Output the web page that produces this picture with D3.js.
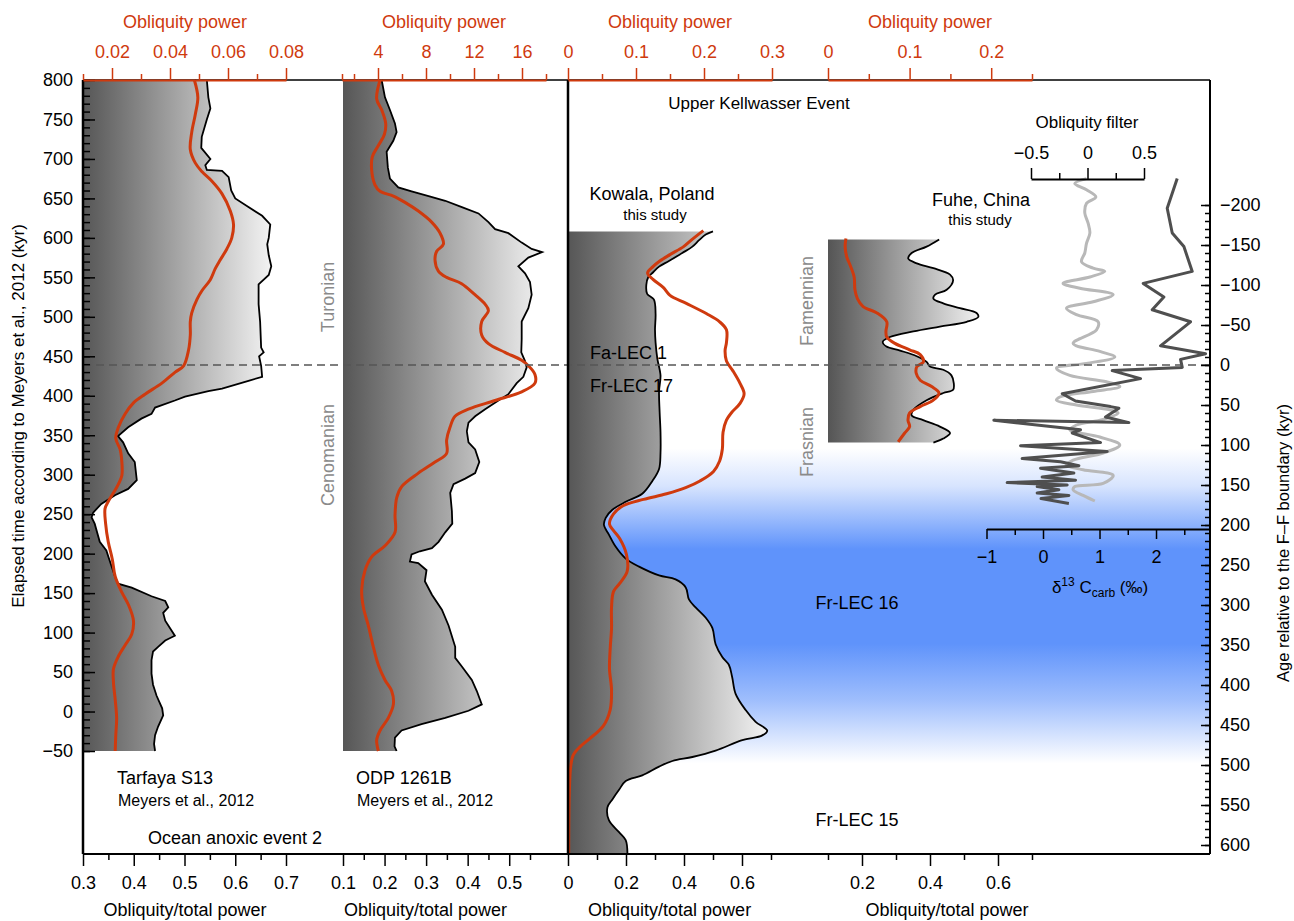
<!DOCTYPE html>
<html><head><meta charset="utf-8">
<script src="https://cdn.jsdelivr.net/npm/d3@7"></script>
<style>body{margin:0;background:#fff}svg{display:block}</style>
</head><body>
<svg id="c" width="1294" height="921"></svg>
<script>
// ---------- DATA (age, value) ----------
// Tarfaya S13 (elapsed time kyr, obliquity/total power)
const tarfayaRatio = [[800,0.544],[778,0.547],[764,0.551],[750,0.544],[728,0.534],[714,0.533],[700,0.551],[692,0.541],[686,0.544],[685,0.574],[677,0.587],[660,0.592],[650,0.600],[639,0.626],[628,0.653],[617,0.669],[600,0.666],[592,0.663],[578,0.666],[564,0.671],[553,0.666],[541,0.646],[516,0.646],[494,0.649],[461,0.651],[455,0.656],[450,0.647],[438,0.651],[424,0.653],[419,0.626],[409,0.574],[406,0.547],[399,0.501],[394,0.481],[385,0.442],[377,0.435],[371,0.415],[360,0.389],[349,0.369],[341,0.379],[327,0.389],[316,0.402],[293,0.406],[282,0.389],[274,0.363],[263,0.336],[252,0.320],[246,0.317],[238,0.323],[215,0.333],[204,0.346],[196,0.350],[171,0.363],[162,0.369],[157,0.396],[146,0.435],[140,0.462],[132,0.468],[125,0.458],[115,0.462],[96,0.481],[90,0.462],[82,0.448],[76,0.438],[65,0.435],[48,0.435],[34,0.438],[20,0.445],[4,0.456],[-5,0.458],[-19,0.448],[-30,0.442],[-41,0.440],[-50,0.442]];
// Tarfaya S13 obliquity power
const tarfayaPower = [[800,0.0484],[778,0.0496],[756,0.0487],[734,0.0475],[712,0.0470],[695,0.0487],[684,0.0510],[672,0.0544],[656,0.0579],[634,0.0608],[617,0.0619],[600,0.0613],[586,0.0596],[572,0.0573],[561,0.0556],[547,0.0539],[533,0.0510],[522,0.0493],[505,0.0475],[494,0.0470],[477,0.0470],[458,0.0464],[438,0.0447],[430,0.0418],[416,0.0372],[402,0.0314],[391,0.0274],[377,0.0245],[360,0.0222],[346,0.0213],[332,0.0228],[316,0.0234],[299,0.0234],[288,0.0222],[277,0.0205],[266,0.0187],[257,0.0176],[238,0.0178],[215,0.0187],[193,0.0201],[171,0.0211],[151,0.0234],[135,0.0257],[115,0.0274],[98,0.0268],[84,0.0245],[70,0.0222],[54,0.0205],[37,0.0205],[15,0.0211],[-8,0.0216],[-30,0.0213],[-50,0.0211]];
// ODP 1261B
const odpRatio = [[800,0.193],[778,0.201],[762,0.213],[745,0.225],[734,0.229],[723,0.221],[709,0.205],[689,0.208],[675,0.213],[664,0.233],[659,0.265],[653,0.306],[647,0.346],[639,0.386],[631,0.426],[620,0.450],[611,0.466],[606,0.498],[594,0.530],[586,0.554],[582,0.579],[575,0.546],[564,0.522],[555,0.538],[544,0.550],[528,0.554],[511,0.546],[494,0.530],[472,0.530],[455,0.529],[444,0.538],[436,0.542],[424,0.534],[416,0.518],[402,0.498],[394,0.474],[383,0.442],[374,0.418],[366,0.402],[355,0.398],[341,0.402],[332,0.418],[316,0.428],[302,0.418],[295,0.394],[288,0.366],[277,0.358],[254,0.362],[238,0.363],[227,0.346],[215,0.330],[207,0.314],[203,0.285],[199,0.265],[190,0.261],[188,0.281],[179,0.301],[165,0.297],[148,0.314],[129,0.338],[109,0.354],[82,0.370],[68,0.370],[57,0.386],[40,0.410],[26,0.422],[9,0.434],[1,0.402],[-8,0.346],[-16,0.289],[-24,0.241],[-33,0.225],[-44,0.224],[-50,0.229]];
const odpPower = [[800,4.17],[776,3.89],[762,4.31],[745,4.64],[731,4.53],[717,4.03],[703,3.53],[686,3.47],[667,3.75],[659,4.17],[653,5.28],[645,6.25],[634,7.36],[620,8.47],[606,9.17],[592,9.45],[583,8.89],[572,8.75],[558,9.03],[550,9.72],[542,10.97],[528,12.08],[516,12.92],[508,13.20],[494,12.64],[477,12.64],[466,13.20],[455,14.58],[445,15.97],[438,16.53],[427,17.08],[416,17.08],[405,15.97],[394,13.75],[383,11.53],[374,10.42],[360,10.0],[344,9.72],[327,9.72],[316,8.75],[302,7.36],[285,5.97],[271,5.56],[249,5.42],[227,5.42],[210,4.58],[196,3.47],[179,2.92],[154,2.64],[132,2.78],[109,3.19],[82,3.61],[59,4.03],[40,4.58],[26,5.14],[9,5.28],[-8,4.86],[-24,4.17],[-36,3.89],[-50,4.03]];
// Kowala, Poland (age relative to F-F boundary, kyr)
const kowalaRatio = [[-167,0.500],[-163,0.475],[-156,0.452],[-148,0.429],[-140,0.394],[-130,0.348],[-123,0.314],[-115,0.291],[-110,0.277],[-100,0.270],[-89,0.273],[-82,0.296],[-64,0.302],[-44,0.300],[-28,0.302],[-8,0.308],[13,0.319],[33,0.314],[59,0.316],[84,0.319],[110,0.319],[130,0.314],[145,0.291],[161,0.256],[171,0.199],[181,0.153],[191,0.130],[200,0.124],[212,0.141],[227,0.164],[242,0.199],[252,0.245],[263,0.314],[268,0.371],[278,0.406],[293,0.417],[303,0.440],[316,0.475],[329,0.498],[349,0.509],[365,0.532],[375,0.555],[390,0.566],[411,0.578],[431,0.612],[446,0.647],[457,0.687],[463,0.670],[469,0.601],[482,0.509],[490,0.429],[495,0.360],[502,0.314],[513,0.256],[520,0.199],[531,0.176],[543,0.153],[553,0.136],[569,0.141],[584,0.176],[594,0.199],[611,0.205]];
const kowalaPower = [[-168,0.199],[-158,0.184],[-148,0.170],[-138,0.150],[-130,0.135],[-123,0.125],[-115,0.117],[-107,0.125],[-97,0.140],[-87,0.150],[-77,0.174],[-64,0.204],[-54,0.223],[-44,0.233],[-28,0.233],[-18,0.231],[-5,0.233],[8,0.243],[23,0.253],[36,0.259],[48,0.253],[59,0.241],[69,0.233],[84,0.228],[105,0.227],[120,0.223],[133,0.214],[145,0.194],[153,0.174],[161,0.145],[168,0.111],[176,0.081],[186,0.067],[199,0.061],[207,0.067],[217,0.076],[237,0.086],[258,0.087],[273,0.076],[283,0.067],[303,0.064],[329,0.064],[355,0.062],[380,0.061],[406,0.064],[431,0.062],[451,0.052],[467,0.032],[477,0.018],[487,0.008],[502,0.004],[533,0.002],[611,0.001]];
// Fuhe, China
const fuheRatio = [[-157,0.427],[-148,0.390],[-140,0.346],[-133,0.336],[-127,0.361],[-121,0.410],[-113,0.459],[-106,0.468],[-94,0.449],[-88,0.415],[-83,0.410],[-77,0.439],[-71,0.488],[-65,0.537],[-60,0.542],[-54,0.508],[-48,0.429],[-42,0.351],[-35,0.282],[-29,0.261],[-23,0.272],[-18,0.312],[-11,0.361],[-4,0.390],[2,0.400],[6,0.439],[13,0.463],[23,0.470],[31,0.468],[35,0.439],[44,0.390],[56,0.351],[63,0.346],[69,0.380],[77,0.429],[85,0.459],[92,0.439],[97,0.410]];
const fuhePower = [[-158,0.022],[-148,0.021],[-135,0.023],[-125,0.027],[-110,0.032],[-94,0.033],[-83,0.036],[-73,0.043],[-65,0.060],[-54,0.072],[-42,0.071],[-35,0.072],[-27,0.082],[-19,0.100],[-13,0.113],[-4,0.117],[2,0.109],[10,0.108],[19,0.113],[27,0.127],[35,0.136],[44,0.129],[52,0.113],[60,0.100],[69,0.098],[77,0.100],[85,0.094],[96,0.086]];
// δ13C carb (age, ‰)
const d13C = [[-233,2.375],[-196,2.198],[-165,2.287],[-148,2.493],[-117,2.641],[-102,1.773],[-85,2.139],[-69,1.933],[-54,2.611],[-44,2.434],[-24,2.080],[-14,2.877],[-7,2.434],[3,2.464],[7,1.225],[17,1.726],[36,0.340],[45,0.576],[52,1.195],[54,1.343],[65,1.107],[72,1.520],[69,-0.870],[81,0.664],[85,0.517],[97,1.018],[101,-0.398],[108,1.136],[117,-0.369],[121,0.310],[126,0.635],[129,-0.044],[135,0.546],[140,-0.015],[144,0.576],[147,-0.634],[150,0.428],[152,-0.103],[156,0.281],[160,-0.103],[163,0.458],[167,-0.035],[173,0.458]];
// Obliquity filter (age, amplitude)
const oblFilter = [[-233,-0.009],[-227,-0.112],[-219,-0.009],[-210,0.074],[-202,-0.009],[-190,-0.024],[-177,0.006],[-165,0.021],[-152,-0.009],[-140,-0.024],[-129,-0.053],[-121,0.050],[-117,0.153],[-110,0.021],[-102,-0.216],[-96,-0.068],[-88,0.227],[-79,0.050],[-71,-0.186],[-63,-0.098],[-54,0.094],[-44,0.080],[-27,-0.127],[-17,0.109],[-10,0.242],[-2,-0.009],[4,-0.275],[13,-0.157],[21,0.168],[27,0.286],[33,0.050],[40,-0.245],[44,-0.275],[50,-0.098],[56,0.198],[60,0.271],[68,0.139],[75,-0.098],[81,-0.157],[90,0.109],[100,0.286],[110,0.139],[119,-0.127],[125,-0.186],[131,-0.039],[138,0.227],[148,0.139],[152,-0.112],[156,-0.127],[163,-0.039],[170,0.065]];

// ---------- TICKS ----------
const leftTicks = [-50,0,50,100,150,200,250,300,350,400,450,500,550,600,650,700,750,800];
const rightTicks = [-200,-150,-100,-50,0,50,100,150,200,250,300,350,400,450,500,550,600];
const p1BottomTicks = [0.3,0.4,0.5,0.6,0.7];
const p1TopTicks = [0.02,0.04,0.06,0.08];
const p2BottomTicks = [0.1,0.2,0.3,0.4,0.5];
const p2TopTicks = [4,8,12,16];
const p3BottomTicks = [0,0.2,0.4,0.6];
const p3TopTicks = [0,0.1,0.2,0.3];
const p4BottomTicks = [0.2,0.4,0.6];
const p4TopTicks = [0,0.1,0.2];
const d13Ticks = [-1,0,1,2];
const filterTicks = [-0.5,0,0.5];

// ---------- SETUP ----------
const svg = d3.select("#c");
const FONT = "'Liberation Sans', Arial, Helvetica, sans-serif";
svg.attr("font-family", FONT);
const RED = "#cf3a0e";
const L=83, R=1210, T=80, B=854, DIV=568;
const FS = 18;
const fmt = d => (d < 0 ? "\u2212" : "") + String(+Math.abs(d).toFixed(3));

const yL = d3.scaleLinear().domain([800,-50]).range([80,751]);
const yR = d3.scaleLinear().domain([-200,600]).range([205,845]);
const x1 = d3.scaleLinear().domain([0.3,0.7]).range([83,286]);
const x1t = d3.scaleLinear().domain([0.01,0.08]).range([83,286]);
const x2 = d3.scaleLinear().domain([0.1,0.55]).range([343,530]);
const x2t = d3.scaleLinear().domain([1,18]).range([342,546]);
const x3 = d3.scaleLinear().domain([0,0.7]).range([568,771]);
const x3t = d3.scaleLinear().domain([0,0.3]).range([568,772]);
const x4 = d3.scaleLinear().domain([0.1,0.7]).range([828,1032]);
const x4t = d3.scaleLinear().domain([0,0.25]).range([828,1032]);
const xd = d3.scaleLinear().domain([-1,2.95]).range([986.5,1209.7]);
const xf = d3.scaleLinear().domain([-0.5,0.5]).range([1031,1144]);

const defs = svg.append("defs");
function hGrad(id, a, b) {
  const g = defs.append("linearGradient").attr("id", id).attr("gradientUnits","userSpaceOnUse")
    .attr("x1", a).attr("x2", b).attr("y1", 0).attr("y2", 0);
  g.append("stop").attr("offset", "0%").attr("stop-color", "#565656");
  g.append("stop").attr("offset", "100%").attr("stop-color", "#f6f6f6");
}
hGrad("g1", 83, 275);
hGrad("g2", 343, 548);
hGrad("g3", 568, 772);
hGrad("g4", 829, 985);

// blue band
const bg = defs.append("linearGradient").attr("id","blue").attr("gradientUnits","userSpaceOnUse")
  .attr("x1",0).attr("x2",0).attr("y1",yR(104)).attr("y2",yR(498));
[[0,0],[0.12,0.25],[0.24,0.7],[0.32,1],[0.62,1],[0.8,0.6],[1,0]].forEach(s =>
  bg.append("stop").attr("offset", s[0]).attr("stop-color","#5f93fb").attr("stop-opacity", s[1]));
svg.append("rect").attr("x", DIV).attr("width", R-DIV).attr("y", yR(104)).attr("height", yR(498)-yR(104))
  .attr("fill","url(#blue)");

// ---------- PANELS ----------
function panel(ratio, power, y, xb, xt, gid, smooth) {
  const c = smooth ? d3.curveCatmullRom : d3.curveLinear;
  const x0 = xb(xb.domain()[0]);
  svg.append("path").datum(ratio)
    .attr("d", d3.area().curve(c).y(d => y(d[0])).x0(x0).x1(d => xb(d[1])))
    .attr("fill", `url(#${gid})`);
  svg.append("path").datum(ratio)
    .attr("d", d3.line().curve(c).y(d => y(d[0])).x(d => xb(d[1])))
    .attr("fill","none").attr("stroke","#000").attr("stroke-width",1.8);
  svg.append("path").datum(power)
    .attr("d", d3.line().curve(d3.curveCatmullRom).y(d => y(d[0])).x(d => xt(d[1])))
    .attr("fill","none").attr("stroke",RED).attr("stroke-width",3);
}
panel(tarfayaRatio, tarfayaPower, yL, x1, x1t, "g1", false);
panel(odpRatio, odpPower, yL, x2, x2t, "g2", false);
panel(kowalaRatio, kowalaPower, yR, x3, x3t, "g3", true);
panel(fuheRatio, fuhePower, yR, x4, x4t, "g4", true);

// inset lines
svg.append("path").datum(oblFilter)
  .attr("d", d3.line().curve(d3.curveCatmullRom).y(d => yR(d[0])).x(d => xf(d[1])))
  .attr("fill","none").attr("stroke","#b8b8b8").attr("stroke-width",3);
svg.append("path").datum(d13C)
  .attr("d", d3.line().y(d => yR(d[0])).x(d => xd(d[1])))
  .attr("fill","none").attr("stroke","#4f4f4f").attr("stroke-width",3).attr("stroke-linejoin","round");

// dashed boundary line
svg.append("line").attr("x1", L).attr("x2", R).attr("y1", yR(0)).attr("y2", yR(0))
  .attr("stroke","#555").attr("stroke-width",1.6).attr("stroke-dasharray","8,5");

// ---------- FRAME ----------
const fr = svg.append("g").attr("stroke","#000");
fr.append("line").attr("x1",L).attr("x2",R).attr("y1",T).attr("y2",T).attr("stroke-width",1.5);
fr.append("line").attr("x1",L).attr("x2",R).attr("y1",B).attr("y2",B).attr("stroke-width",2);
fr.append("line").attr("x1",L).attr("x2",L).attr("y1",T).attr("y2",B).attr("stroke-width",2.5);
fr.append("line").attr("x1",DIV).attr("x2",DIV).attr("y1",T).attr("y2",B).attr("stroke-width",2.5);
fr.append("line").attr("x1",R).attr("x2",R).attr("y1",T).attr("y2",B).attr("stroke-width",2);

// ---------- AXES ----------
function styleAxis(g, color, keepDomain) {
  g.attr("font-size", FS).attr("font-family", FONT);
  g.selectAll("line").attr("stroke", color).attr("stroke-width", 1.5);
  g.selectAll("text").attr("fill", color);
  if (keepDomain) g.select(".domain").attr("stroke", color).attr("stroke-width", 2);
  else g.select(".domain").remove();
}
function addAxis(axisFn, scale, tx, ty, majors, minors, majLen, minLen, pad, color, keepDomain) {
  if (minors) {
    svg.append("g").attr("transform", `translate(${tx},${ty})`)
      .call(axisFn(scale).tickValues(minors).tickSizeInner(minLen).tickSizeOuter(0).tickFormat(""))
      .call(g => styleAxis(g, color, keepDomain));
  }
  svg.append("g").attr("transform", `translate(${tx},${ty})`)
    .call(axisFn(scale).tickValues(majors).tickSizeInner(majLen).tickSizeOuter(0).tickPadding(pad).tickFormat(fmt))
    .call(g => styleAxis(g, color, keepDomain && !minors));
}
// left axis
addAxis(d3.axisLeft, yL, L, 0, leftTicks, d3.range(-50, 801, 10), -12, -7, 10, "#000", false);
// right axis
addAxis(d3.axisRight, yR, R, 0, rightTicks, d3.range(-200, 601, 10), -9, -5, 10, "#000", false);
// bottom axes
addAxis(d3.axisBottom, x1, 0, B, p1BottomTicks, [0.35,0.45,0.55,0.65], 12, 6, 10, "#000", false);
addAxis(d3.axisBottom, x2, 0, B, p2BottomTicks, [0.15,0.25,0.35,0.45,0.55], 12, 6, 10, "#000", false);
addAxis(d3.axisBottom, x3, 0, B, p3BottomTicks, [0.1,0.3,0.5,0.7], 12, 6, 10, "#000", false);
addAxis(d3.axisBottom, x4, 0, B, p4BottomTicks, [0.1,0.3,0.5,0.7], 12, 6, 10, "#000", false);
// top axes (red)
addAxis(d3.axisTop, x1t, 0, T, p1TopTicks, [0.01,0.03,0.05,0.07], 12, 6, 10, RED, true);
addAxis(d3.axisTop, x2t, 0, T, p2TopTicks, [1,2,6,10,14,18], 12, 6, 10, RED, true);
addAxis(d3.axisTop, x3t, 0, T, p3TopTicks, [0.05,0.15,0.25], 12, 6, 10, RED, true);
addAxis(d3.axisTop, x4t, 0, T, p4TopTicks, [0.05,0.15,0.25], 12, 6, 10, RED, true);
// inset δ13C axis
addAxis(d3.axisBottom, xd, 0, 529, d13Ticks, [-0.5,0.5,1.5,2.5], 10, 6, 11, "#000", true);
// inset filter axis
addAxis(d3.axisTop, xf, 0, 179, filterTicks, [-0.25,0.25], 11, 6, 9, "#000", true);

// ---------- TEXT ----------
function txt(x, y, s, o = {}) {
  const t = svg.append("text").attr("x", x).attr("y", y).attr("dy", "0.35em")
    .attr("font-size", o.size || FS).attr("fill", o.color || "#000")
    .attr("text-anchor", o.anchor || "middle").text(s);
  if (o.rotate) t.attr("transform", `rotate(-90,${x},${y})`);
  return t;
}
[185, 444, 670, 930].forEach(x => txt(x, 22, "Obliquity power", {color: RED}));
[185, 425.5, 669.6, 947].forEach(x => txt(x, 910, "Obliquity/total power"));
txt(18, 416, "Elapsed time according to Meyers et al., 2012  (kyr)", {rotate: true, size: 17});
txt(1283, 543, "Age relative to the F\u2013F boundary (kyr)", {rotate: true, size: 16.5});

txt(117, 778, "Tarfaya S13", {anchor: "start"});
txt(118, 800, "Meyers et al., 2012", {anchor: "start", size: 16});
txt(356, 778, "ODP 1261B", {anchor: "start"});
txt(357, 800, "Meyers et al., 2012", {anchor: "start", size: 16});
txt(148, 838, "Ocean anoxic event 2", {anchor: "start", size: 18});
txt(328, 297, "Turonian", {rotate: true, color: "#8a8a8a"});
txt(328, 455, "Cenomanian", {rotate: true, color: "#8a8a8a"});
txt(807, 301, "Famennian", {rotate: true, color: "#8a8a8a"});
txt(807, 442, "Frasnian", {rotate: true, color: "#8a8a8a"});

txt(759, 103, "Upper Kellwasser Event", {size: 17});
txt(652, 194, "Kowala, Poland", {size: 18});
txt(655, 215, "this study", {size: 15});
txt(981, 200, "Fuhe, China", {size: 18});
txt(980, 220, "this study", {size: 15});
txt(590, 353, "Fa-LEC 1", {anchor: "start", size: 18});
txt(590, 386, "Fr-LEC 17", {anchor: "start", size: 18});
txt(857, 603, "Fr-LEC 16", {size: 18});
txt(857, 820, "Fr-LEC 15", {size: 18});
txt(1087, 122, "Obliquity filter", {size: 17});

const dt = svg.append("text").attr("x", 1100).attr("y", 593).attr("font-size", 17).attr("text-anchor", "middle");
dt.append("tspan").text("\u03b4");
dt.append("tspan").attr("font-size", 12).attr("dy", -7).text("13");
dt.append("tspan").attr("dy", 7).text(" C");
dt.append("tspan").attr("font-size", 12).attr("dy", 4).text("carb");
dt.append("tspan").attr("dy", -4).text(" (\u2030)");
</script>
</body></html>
